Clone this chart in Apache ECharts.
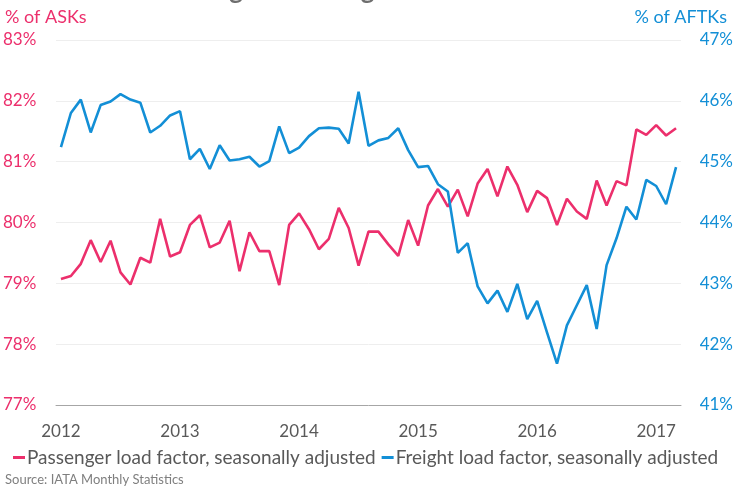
<!DOCTYPE html>
<html>
<head>
<meta charset="utf-8">
<script src="https://cdn.jsdelivr.net/npm/echarts@6/dist/echarts.min.js"></script>
<style>
  html, body { margin: 0; padding: 0; background: #fff; }
  #main { width: 736px; height: 489px; }
</style>
</head>
<body>
<div id="main"></div>
<script>
// months Jan 2012 .. Mar 2017
var years = ['2012', '2013', '2014', '2015', '2016', '2017'];
var monthCount = 63;
var months = [];
for (var i = 0; i < monthCount; i++) {
  months.push(years[Math.floor(i / 12)] + '-' + ('0' + (i % 12 + 1)).slice(-2));
}

// % of ASKs
var passenger = [
  79.07, 79.12, 79.32, 79.71, 79.35, 79.70, 79.18, 78.98, 79.42, 79.34, 80.06, 79.44,
  79.51, 79.96, 80.12, 79.59, 79.67, 80.03, 79.20, 79.84, 79.53, 79.53, 78.97, 79.96,
  80.15, 79.89, 79.56, 79.73, 80.24, 79.91, 79.29, 79.85, 79.85, 79.64, 79.45, 80.04,
  79.62, 80.28, 80.55, 80.26, 80.54, 80.10, 80.64, 80.88, 80.43, 80.92, 80.62, 80.17,
  80.52, 80.40, 79.96, 80.39, 80.18, 80.06, 80.69, 80.28, 80.68, 80.61, 81.53, 81.44,
  81.60, 81.43, 81.55
];

// % of AFTKs
var freight = [
  45.24, 45.80, 46.02, 45.48, 45.93, 45.99, 46.11, 46.02, 45.97, 45.48, 45.59, 45.76,
  45.83, 45.04, 45.21, 44.88, 45.27, 45.02, 45.04, 45.08, 44.92, 45.01, 45.58, 45.14,
  45.23, 45.42, 45.55, 45.56, 45.54, 45.30, 46.15, 45.26, 45.35, 45.39, 45.55, 45.19,
  44.91, 44.93, 44.63, 44.51, 43.50, 43.66, 42.95, 42.67, 42.88, 42.53, 42.99, 42.41,
  42.71, 42.19, 41.68, 42.31, 42.64, 42.97, 42.25, 43.30, 43.74, 44.26, 44.05, 44.70,
  44.60, 44.30, 44.91
];

var pink = '#EC2F6C';
var blue = '#138FD6';
var font = 'Lato';

var myChart = echarts.init(document.getElementById('main'));
var option = {
  animation: false,
  textStyle: { fontFamily: font },
  grid: { left: 55, right: 55, top: 40, bottom: 84 },
  graphic: [
    {
      type: 'text', left: 149, top: -22,
      style: { text: 'Passenger and freight load factors', font: 'bold 26px ' + font, fill: '#6E6E6E' }
    },
    {
      type: 'text', left: 5, top: 8,
      style: { text: '% of ASKs', font: '18px ' + font, fill: pink }
    },
    {
      type: 'text', right: 9, top: 8,
      style: { text: '% of AFTKs', font: '18px ' + font, fill: blue }
    },
    {
      type: 'text', left: 5, top: 473,
      style: { text: 'Source: IATA Monthly Statistics', font: '13px ' + font, fill: '#7F7F7F' }
    }
  ],
  legend: {
    left: 8,
    top: 443,
    itemGap: 6,
    itemWidth: 12,
    itemHeight: 3,
    icon: 'rect',
    textStyle: { color: '#595959', fontSize: 19, padding: [0, 0, 0, -3] },
    data: ['Passenger load factor, seasonally adjusted', 'Freight load factor, seasonally adjusted']
  },
  xAxis: {
    type: 'category',
    data: months,
    boundaryGap: true,
    axisLine: { lineStyle: { color: '#A6A6A6', width: 1 } },
    axisTick: {
      length: 5,
      lineStyle: { color: '#A6A6A6' },
      interval: function (idx) { return idx % 12 === 0; }
    },
    axisLabel: {
      color: '#595959',
      fontSize: 17,
      margin: 18,
      interval: function (idx) { return idx % 12 === 0; },
      formatter: function (v) { return v.slice(0, 4); }
    }
  },
  yAxis: [
    {
      type: 'value', min: 77, max: 83, interval: 1,
      axisLine: { show: false },
      axisTick: { show: false },
      splitLine: { lineStyle: { color: '#EEEEEE', width: 1 } },
      axisLabel: { color: pink, fontSize: 17, align: 'left', margin: 53, formatter: '{value}%' }
    },
    {
      type: 'value', min: 41, max: 47, interval: 1,
      axisLine: { show: false },
      axisTick: { show: false },
      splitLine: { show: false },
      axisLabel: { color: blue, fontSize: 17, align: 'right', margin: 52, formatter: '{value}%' }
    }
  ],
  series: [
    {
      name: 'Passenger load factor, seasonally adjusted',
      type: 'line',
      yAxisIndex: 0,
      data: passenger,
      symbol: 'none',
      color: pink,
      lineStyle: { width: 2.6, color: pink }
    },
    {
      name: 'Freight load factor, seasonally adjusted',
      type: 'line',
      yAxisIndex: 1,
      data: freight,
      symbol: 'none',
      color: blue,
      lineStyle: { width: 2.6, color: blue }
    }
  ]
};
myChart.setOption(option);
</script>
</body>
</html>
